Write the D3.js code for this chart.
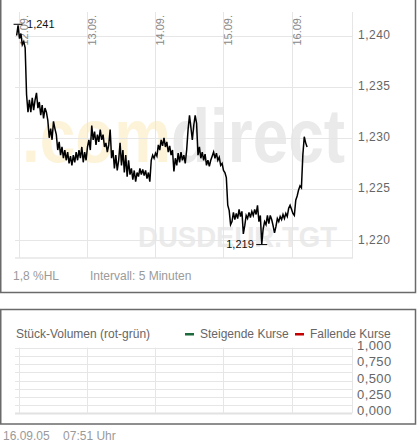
<!DOCTYPE html>
<html>
<head>
<meta charset="utf-8">
<script src="https://cdn.jsdelivr.net/npm/d3@7"></script>
<style>
    body { margin: 0; background: #fff; }
    text { font-family: "Liberation Sans", Arial, sans-serif; }
</style>
</head>
<body>
<script>
// EUR/USD quotes, one every 30 minutes, starting 11.09.2005 23:00
const startTime = new Date(2005, 8, 11, 23, 0)
const stepMinutes = 30
const prices = [
    1.2400, 1.2410, 1.2397, 1.2402, 1.2391, 1.2394, 1.2388, 1.2342, 1.2325, 1.2337,
    1.2325, 1.2339, 1.2327, 1.2337, 1.2344, 1.2329, 1.2335, 1.2322, 1.2332, 1.2319,
    1.2329, 1.2325, 1.2317, 1.2300, 1.2309, 1.2298, 1.2316, 1.2309, 1.2303, 1.2288,
    1.2296, 1.2283, 1.2291, 1.2280, 1.2288, 1.2278, 1.2286, 1.2275, 1.2282, 1.2273,
    1.2283, 1.2276, 1.2286, 1.2278, 1.2288, 1.2280, 1.2291, 1.2276, 1.2286, 1.2278,
    1.2291, 1.2298, 1.2288, 1.2312, 1.2298, 1.2306, 1.2293, 1.2303, 1.2296, 1.2308,
    1.2298, 1.2303, 1.2291, 1.2295, 1.2286, 1.2293, 1.2308, 1.2280, 1.2288, 1.2270,
    1.2283, 1.2268, 1.2278, 1.2295, 1.2273, 1.2288, 1.2266, 1.2283, 1.2262, 1.2278,
    1.2264, 1.2270, 1.2259, 1.2268, 1.2257, 1.2266, 1.2262, 1.2270, 1.2264, 1.2269,
    1.2263, 1.2268, 1.2260, 1.2266, 1.2257, 1.2278, 1.2283, 1.2280, 1.2285, 1.2282,
    1.2293, 1.2288, 1.2298, 1.2292, 1.2300, 1.2291, 1.2296, 1.2286, 1.2292, 1.2283,
    1.2288, 1.2267, 1.2280, 1.2273, 1.2285, 1.2276, 1.2286, 1.2278, 1.2283, 1.2275,
    1.2288, 1.2308, 1.2322, 1.2310, 1.2298, 1.2312, 1.2322, 1.2314, 1.2283, 1.2291,
    1.2280, 1.2286, 1.2278, 1.2284, 1.2273, 1.2278, 1.2272, 1.2278, 1.2282, 1.2286,
    1.2280, 1.2285, 1.2278, 1.2281, 1.2273, 1.2275, 1.2268, 1.2266, 1.2261, 1.2234,
    1.2229, 1.2215, 1.2218, 1.2227, 1.2220, 1.2226, 1.2221, 1.2230, 1.2223, 1.2228,
    1.2206, 1.2214, 1.2224, 1.2221, 1.2227, 1.2222, 1.2228, 1.2224, 1.2230, 1.2225,
    1.2234, 1.2218, 1.2224, 1.2196, 1.2211, 1.2218, 1.2215, 1.2224, 1.2216, 1.2224,
    1.2220, 1.2214, 1.2207, 1.2213, 1.2221, 1.2218, 1.2223, 1.2220, 1.2225, 1.2221,
    1.2226, 1.2223, 1.2231, 1.2234, 1.2230, 1.2226, 1.2224, 1.2239, 1.2243, 1.2249,
    1.2253, 1.2251, 1.2283, 1.2301, 1.2295, 1.2291
]
const priceTicks = [1.220, 1.225, 1.230, 1.235, 1.240]
const extremeLabels = ["1,241", "1,219"]
const volumeTicks = [0, 0.25, 0.5, 0.75, 1]
const volumeGrid = [0, 0.125, 0.25, 0.375, 0.5, 0.625, 0.75, 0.875, 1]
const infoTexts = ["1,8 %HL", "Intervall: 5 Minuten"]
const legendItems = [
    { label: "Steigende Kurse", colour: "#1d6b3c" },
    { label: "Fallende Kurse", colour: "#c40000" }
]
const volumeTitle = "Stück-Volumen (rot-grün)"
const footerText = "16.09.05    07:51 Uhr"

const WIDTH = 417
const HEIGHT = 443
const GRID = "#e6e6e6"

const data = prices.map((p, i) => ({
    t: new Date(startTime.getTime() + i * stepMinutes * 60000),
    p
}))

const svg = d3
    .select("body")
    .append("svg")
    .attr("width", WIDTH)
    .attr("height", HEIGHT)

const fmt = d3.formatLocale({ decimal: ",", thousands: ".", grouping: [3], currency: ["", "€"] })

// panel frames
svg.append("rect")
    .attr("x", 0.75).attr("y", -5)
    .attr("width", 414.75).attr("height", 297.5)
    .attr("fill", "none").attr("stroke", "#6a6a6a").attr("stroke-width", 1.5)

svg.append("rect")
    .attr("x", 0.75).attr("y", 309.5)
    .attr("width", 414.75).attr("height", 114.5)
    .attr("fill", "none").attr("stroke", "#6a6a6a").attr("stroke-width", 1.5)

const x = d3.scaleTime()
    .domain([new Date(2005, 8, 11, 22, 25), new Date(2005, 8, 16, 21, 21)])
    .range([15, 352])

const y = d3.scaleLinear()
    .domain([1.21824, 1.2423])
    .range([258, 12])

const days = d3.timeDay.range(new Date(2005, 8, 12), new Date(2005, 8, 17))

// watermark
const wm = svg.append("text")
    .attr("x", 22).attr("y", 162)
    .attr("font-size", 76).attr("font-weight", "bold")
    .attr("textLength", 323).attr("lengthAdjust", "spacingAndGlyphs")
wm.append("tspan").attr("fill", "#fdf3d9").text(".com")
wm.append("tspan").attr("fill", "#eaeaea").text("direct")

svg.append("text")
    .attr("x", 138).attr("y", 247)
    .attr("font-size", 29).attr("font-weight", "bold")
    .attr("fill", "#ebebeb")
    .attr("textLength", 199).attr("lengthAdjust", "spacingAndGlyphs")
    .text("DUSDEUR.TGT")

// price grid
svg.append("g")
    .selectAll("line")
    .data(priceTicks)
    .join("line")
    .attr("x1", 15).attr("x2", 352)
    .attr("y1", d => Math.round(y(d)) + 0.5)
    .attr("y2", d => Math.round(y(d)) + 0.5)
    .attr("stroke", GRID)

svg.append("g")
    .selectAll("line")
    .data(days)
    .join("line")
    .attr("x1", d => Math.round(x(d)) + 0.5)
    .attr("x2", d => Math.round(x(d)) + 0.5)
    .attr("y1", 12).attr("y2", 258)
    .attr("stroke", GRID)

svg.append("line")
    .attr("x1", 352.5).attr("x2", 352.5).attr("y1", 12).attr("y2", 258)
    .attr("stroke", GRID)
svg.append("line")
    .attr("x1", 15).attr("x2", 353).attr("y1", 258).attr("y2", 258)
    .attr("stroke", GRID).attr("stroke-width", 1.5)

// date labels
svg.append("g")
    .selectAll("text")
    .data(days)
    .join("text")
    .attr("transform", d => `translate(${x(d) + 9},15) rotate(-90)`)
    .attr("text-anchor", "end")
    .attr("font-size", 11)
    .attr("fill", "#888")
    .text(d3.timeFormat("%d.%m."))

// price axis labels
svg.append("g")
    .selectAll("text")
    .data(priceTicks)
    .join("text")
    .attr("x", 358)
    .attr("y", d => y(d))
    .attr("dy", "0.3em")
    .attr("font-size", 12)
    .attr("letter-spacing", 0.5)
    .attr("fill", "#666")
    .text(d => fmt.format(".3f")(d))

// price line
svg.append("path")
    .datum(data)
    .attr("fill", "none")
    .attr("stroke", "#000")
    .attr("stroke-width", 1.5)
    .attr("stroke-linejoin", "miter")
    .attr("d", d3.line().x(d => x(d.t)).y(d => y(d.p)))

// high / low marks
const hi = data.reduce((a, b) => (b.p > a.p ? b : a))
const lo = data.reduce((a, b) => (b.p < a.p ? b : a))

svg.append("line")
    .attr("x1", x(hi.t) - 4.5).attr("x2", x(hi.t) + 4.5)
    .attr("y1", y(hi.p) - 1).attr("y2", y(hi.p) - 1)
    .attr("stroke", "#000")
svg.append("text")
    .attr("x", x(hi.t) + 9).attr("y", y(hi.p) + 3)
    .attr("font-size", 11).attr("fill", "#111")
    .text(extremeLabels[0])

svg.append("line")
    .attr("x1", x(lo.t) - 5.5).attr("x2", x(lo.t) + 5.5)
    .attr("y1", y(lo.p) + 0.5).attr("y2", y(lo.p) + 0.5)
    .attr("stroke", "#000")
svg.append("text")
    .attr("x", x(lo.t) - 8).attr("y", y(lo.p) + 4)
    .attr("text-anchor", "end")
    .attr("font-size", 11).attr("fill", "#111")
    .text(extremeLabels[1])

// info line
svg.append("text")
    .attr("x", 13).attr("y", 280)
    .attr("font-size", 12).attr("fill", "#9a9a9a")
    .text(infoTexts[0])
svg.append("text")
    .attr("x", 90).attr("y", 280)
    .attr("font-size", 12).attr("fill", "#9a9a9a")
    .text(infoTexts[1])

// volume panel
const yv = d3.scaleLinear()
    .domain([0, 1])
    .range([413.3, 347.7])

svg.append("text")
    .attr("x", 16).attr("y", 337.5)
    .attr("font-size", 12).attr("fill", "#666")
    .text(volumeTitle)

const legendX = [185, 295]
legendItems.forEach((d, i) => {
    svg.append("rect")
        .attr("x", legendX[i]).attr("y", 333)
        .attr("width", 9).attr("height", 2.5)
        .attr("fill", d.colour)
    svg.append("text")
        .attr("x", legendX[i] + 15).attr("y", 337.5)
        .attr("font-size", 12).attr("fill", "#666")
        .text(d.label)
})

svg.append("g")
    .selectAll("line")
    .data(volumeGrid)
    .join("line")
    .attr("x1", 15).attr("x2", 352)
    .attr("y1", d => Math.round(yv(d)) + 0.5)
    .attr("y2", d => Math.round(yv(d)) + 0.5)
    .attr("stroke", d => (d === 0 ? "#e2e2e2" : GRID))
    .attr("stroke-width", d => (d === 0 ? 2 : 1))

svg.append("g")
    .selectAll("line")
    .data(days)
    .join("line")
    .attr("x1", d => Math.round(x(d)) + 0.5)
    .attr("x2", d => Math.round(x(d)) + 0.5)
    .attr("y1", yv(1)).attr("y2", yv(0))
    .attr("stroke", GRID)

svg.append("line")
    .attr("x1", 352.5).attr("x2", 352.5).attr("y1", yv(1)).attr("y2", yv(0))
    .attr("stroke", GRID)

svg.append("g")
    .selectAll("text")
    .data(volumeTicks)
    .join("text")
    .attr("x", 357)
    .attr("y", d => yv(d) - 2.5)
    .attr("dy", "0.35em")
    .attr("font-size", 13)
    .attr("letter-spacing", 0.4)
    .attr("fill", "#666")
    .text(d => fmt.format(".3f")(d))

svg.append("text")
    .attr("x", 3).attr("y", 440)
    .attr("font-size", 12).attr("fill", "#9a9a9a")
    .attr("xml:space", "preserve")
    .style("white-space", "pre")
    .text(footerText)
</script>
</body>
</html>
